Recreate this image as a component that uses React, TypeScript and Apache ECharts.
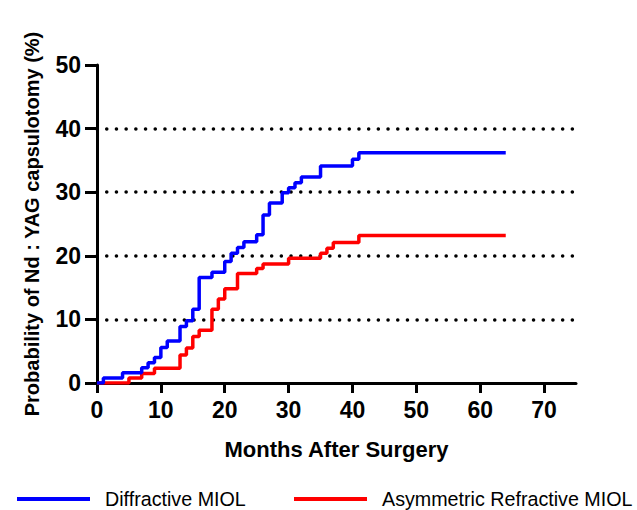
import React, { useEffect, useRef } from "react";
import * as echarts from "echarts";

const seriesNames = ["Diffractive MIOL", "Asymmetric Refractive MIOL"];

// [months, probability %] Kaplan–Meier style steps
const diffractive: [number, number][] = [
  [0, 0], [1, 0.8], [4, 1.6], [7, 2.4], [8, 3.2], [9, 4.0], [10, 5.6], [11, 6.6],
  [13, 8.9], [14, 9.8], [15, 11.6], [16, 16.6], [18, 17.4], [20, 19.1], [21, 20.4],
  [22, 21.3], [23, 22.2], [25, 23.3], [26, 26.4], [27, 28.3], [29, 29.9], [30, 30.7],
  [31, 31.5], [32, 32.4], [35, 34.1], [40, 35.2], [41, 36.2], [64, 36.2],
];

const asymmetric: [number, number][] = [
  [0, 0], [5, 0.8], [7, 1.5], [9, 2.3], [13, 4.4], [14, 5.5], [15, 7.3], [16, 8.3],
  [18, 11.6], [19, 13.2], [20, 14.8], [22, 17.2], [25, 18.0], [26, 18.7], [30, 19.6],
  [35, 20.4], [36, 21.2], [37, 22.1], [41, 23.2], [64, 23.2],
];

const xTicks = [0, 10, 20, 30, 40, 50, 60, 70];
const gridLevels = [10, 20, 30, 40];

export default function App() {
  const ref = useRef<HTMLDivElement>(null);
  useEffect(() => {
    if (!ref.current) return;
    const chart = echarts.init(ref.current, null, { renderer: "svg" });
    const font = "Arial, 'Liberation Sans', sans-serif";
    const legendText = { fontFamily: font, fontSize: 19.7, color: "#000", padding: [0, 0, 0, 10] };
    chart.setOption({
      animation: false,
      grid: { left: 97, right: 61, top: 65, bottom: 127 },
      legend: [
        {
          data: [seriesNames[0]],
          left: 12,
          top: 484,
          itemWidth: 73,
          itemHeight: 4,
          icon: "rect",
          textStyle: legendText,
        },
        {
          data: [seriesNames[1]],
          left: 289,
          top: 484,
          itemWidth: 73,
          itemHeight: 4,
          icon: "rect",
          textStyle: legendText,
        },
      ],
      xAxis: {
        type: "value",
        min: 0,
        max: 75,
        interval: 10,
        name: "Months After Surgery",
        nameLocation: "middle",
        nameGap: 55,
        nameTextStyle: { fontFamily: font, fontSize: 22, fontWeight: "bold", color: "#000" },
        axisLine: { show: true, onZero: false, lineStyle: { color: "#000", width: 3 } },
        axisTick: { show: true, length: 10, lineStyle: { color: "#000", width: 3 }, customValues: xTicks },
        axisLabel: {
          fontFamily: font, fontSize: 23, fontWeight: "bold", color: "#000", margin: 15,
          customValues: xTicks,
        },
        splitLine: { show: false },
      },
      yAxis: {
        type: "value",
        min: 0,
        max: 50,
        interval: 10,
        name: "Probability of Nd : YAG capsulotomy (%)",
        nameLocation: "middle",
        nameGap: 55,
        nameTextStyle: { fontFamily: font, fontSize: 20, fontWeight: "bold", color: "#000" },
        axisLine: { show: true, lineStyle: { color: "#000", width: 3 } },
        axisTick: { show: true, length: 12, lineStyle: { color: "#000", width: 3 } },
        axisLabel: { fontFamily: font, fontSize: 23, fontWeight: "bold", color: "#000", margin: 16 },
        splitLine: { show: false },
      },
      series: [
        {
          name: seriesNames[0],
          type: "line",
          step: "end",
          data: diffractive,
          showSymbol: false,
          symbol: "none",
          color: "#0000ff",
          lineStyle: { color: "#0000ff", width: 3.5 },
          z: 3,
          markLine: {
            silent: true,
            symbol: "none",
            label: { show: false },
            lineStyle: { color: "#000", width: 3.5, type: [0.1, 9.6], cap: "round" },
            data: gridLevels.map((v) => ({ yAxis: v })),
            z: 1,
          },
        },
        {
          name: seriesNames[1],
          type: "line",
          step: "end",
          data: asymmetric,
          showSymbol: false,
          symbol: "none",
          color: "#ff0000",
          lineStyle: { color: "#ff0000", width: 3.5 },
          z: 2,
        },
      ],
    });
    return () => chart.dispose();
  }, []);
  return <div ref={ref} style={{ width: 637, height: 510, position: "absolute", left: 0, top: 0, background: "#fff" }} />;
}
